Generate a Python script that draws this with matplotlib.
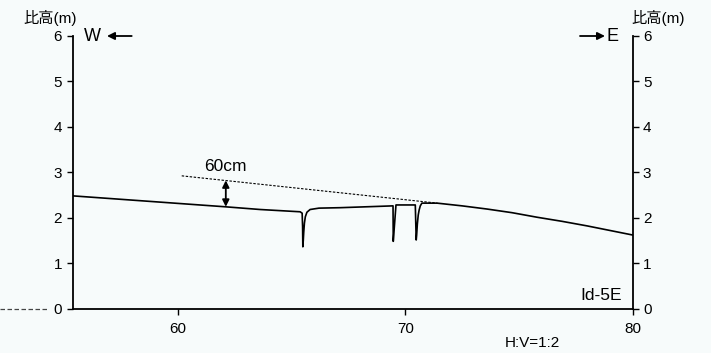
import matplotlib
matplotlib.use('Agg')
import matplotlib.pyplot as plt
from matplotlib.lines import Line2D

plt.rcParams['font.family'] = ['Liberation Sans', 'Noto Sans CJK JP', 'DejaVu Sans']

BG = '#f7fbfb'

# 地形断面 (距離 m, 比高 m)
profile_x = [55.36, 62.07, 63.61, 65.37, 65.46, 65.48, 65.49, 65.51, 65.53, 65.56, 65.6, 65.67,
             65.81, 66.2, 67.14, 69.46, 69.465, 69.47, 69.59, 70.44, 70.46, 70.48, 70.5,
             70.53, 70.57, 70.61, 70.66, 70.73, 71.4, 72.5, 73.6, 74.7, 75.8, 76.9, 78.0, 80.0]
profile_y = [2.48, 2.24, 2.18, 2.13, 2.10, 1.80, 1.36, 1.50, 1.68, 1.88, 2.02, 2.12,
             2.18, 2.21, 2.22, 2.26, 1.85, 1.48, 2.28, 2.28, 1.90, 1.51, 1.62,
             1.86, 2.06, 2.17, 2.26, 2.32, 2.32, 2.26, 2.19, 2.11, 2.01, 1.92, 1.82, 1.62]

# 旧面の延長線
terrace_x = [60.16, 71.41]
terrace_y = [2.92, 2.32]

# 比高差 60cm
gap_x = 62.1
gap_top, gap_bottom = 2.82, 2.24

xticks = [60, 70, 80]
yticks = [0, 1, 2, 3, 4, 5, 6]

fig = plt.figure(figsize=(7.11, 3.53), dpi=100, facecolor=BG)
ax = fig.add_axes([0.1022, 0.1255, 0.7874, 0.7734], facecolor=BG)

ax.plot(profile_x, profile_y, color='black', lw=1.2, solid_joinstyle='round')
ax.plot(terrace_x, terrace_y, color='black', lw=0.8, linestyle=(0, (2.2, 1.4)))
ax.annotate('', xy=(gap_x, gap_top), xytext=(gap_x, gap_bottom),
            arrowprops=dict(arrowstyle='<|-|>', color='black', lw=1.3,
                            mutation_scale=10, shrinkA=0, shrinkB=0))
ax.text(62.08, 3.12, '60cm', fontsize=12.5, ha='center', va='center')
ax.text(79.54, 0.30, 'Id-5E', fontsize=12.5, ha='right', va='center')

ax.set_xlim(55.36, 80)
ax.set_ylim(0, 6)
ax.set_xticks(xticks)
ax.set_yticks(yticks)
ax.tick_params(axis='both', direction='out', length=4.5, width=1.0, labelsize=11, pad=3)
ax.tick_params(axis='y', right=True, labelright=True)
ax.tick_params(axis='x', pad=5)
ax.spines['top'].set_visible(False)
for s in ['left', 'right', 'bottom']:
    ax.spines[s].set_linewidth(1.3)

# 左外側の0m破線
fig.add_artist(Line2D([0.0, 47 / 711], [1 - 308.7 / 353] * 2, transform=fig.transFigure,
                      color='#444444', lw=0.9, linestyle=(0, (3.6, 2.0))))

fig.text(50 / 711, 1 - 18 / 353, '比高(m)', fontsize=11, ha='center', va='center')
fig.text(658 / 711, 1 - 18 / 353, '比高(m)', fontsize=11, ha='center', va='center')

fig.text(92.5 / 711, 1 - 36.7 / 353, 'W', fontsize=13, ha='center', va='center')
ax.annotate('', xy=(107 / 711, 1 - 36 / 353), xytext=(131.7 / 711, 1 - 36 / 353),
            xycoords='figure fraction', textcoords='figure fraction',
            arrowprops=dict(arrowstyle='-|>', color='black', lw=1.3,
                            mutation_scale=11, shrinkA=0, shrinkB=0))
fig.text(612 / 711, 1 - 36.7 / 353, 'E', fontsize=13, ha='center', va='center')
ax.annotate('', xy=(605 / 711, 1 - 36 / 353), xytext=(580 / 711, 1 - 36 / 353),
            xycoords='figure fraction', textcoords='figure fraction',
            arrowprops=dict(arrowstyle='-|>', color='black', lw=1.3,
                            mutation_scale=11, shrinkA=0, shrinkB=0))

fig.text(532 / 711, 1 - 342.7 / 353, 'H:V=1:2', fontsize=11, ha='center', va='center')

fig.savefig('out.png', dpi=100, facecolor=BG)
